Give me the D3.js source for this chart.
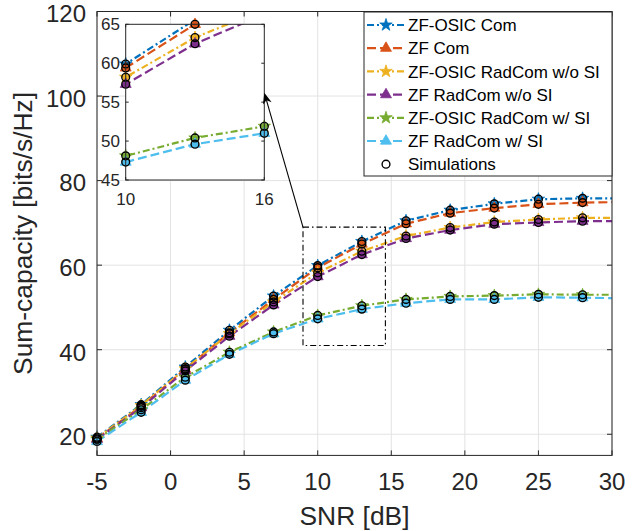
<!DOCTYPE html>
<html>
<head>
<meta charset="utf-8">
<script src="https://cdn.jsdelivr.net/npm/d3@7"></script>
<style>
  body { margin: 0; background: #fff; }
  svg { font-family: "Liberation Sans", Arial, Helvetica, sans-serif; }
</style>
</head>
<body>
<div id="chart"></div>
<script>

// ---- data ----
const snr = [-5, -2, 1, 4, 7, 10, 13, 16, 19, 22, 25, 28, 30];
// markers / simulation points are every 3 dB up to 28
const simSnr = [-5, -2, 1, 4, 7, 10, 13, 16, 19, 22, 25, 28];

const zfOsicCom      = [19.3, 27.0, 35.9, 44.6, 52.7, 59.9, 65.6, 70.5, 73.0, 74.5, 75.6, 75.8, 75.8];
const zfCom          = [19.0, 26.6, 35.4, 44.0, 51.9, 59.4, 65.0, 69.8, 72.3, 73.5, 74.4, 74.8, 74.9];
const zfOsicRadNoSI  = [19.1, 26.8, 35.5, 43.8, 51.3, 58.2, 63.3, 66.9, 68.9, 70.2, 70.8, 71.2, 71.2];
const zfRadNoSI      = [18.8, 26.3, 35.0, 43.2, 50.6, 57.3, 62.5, 66.3, 68.3, 69.7, 70.1, 70.4, 70.4];
const zfOsicRadSI    = [18.8, 25.8, 33.5, 39.4, 44.2, 48.1, 50.4, 51.9, 52.6, 52.8, 53.1, 53.0, 53.0];
const zfRadSI        = [18.3, 25.2, 32.8, 38.9, 43.8, 47.3, 49.6, 51.0, 51.9, 51.9, 52.4, 52.3, 52.2];

const seriesNames = ["ZF-OSIC Com", "ZF Com", "ZF-OSIC RadCom w/o SI",
                     "ZF RadCom w/o SI", "ZF-OSIC RadCom w/ SI", "ZF RadCom w/ SI"];
const seriesValues = [zfOsicCom, zfCom, zfOsicRadNoSI, zfRadNoSI, zfOsicRadSI, zfRadSI];
const seriesColors = ["#0072BD", "#D95319", "#EDB120", "#7E2F8E", "#77AC30", "#4DBEEE"];
const seriesMarker = ["star", "tri", "star", "tri", "star", "tri"];
const simName = "Simulations";

const xTicks = [-5, 0, 5, 10, 15, 20, 25, 30];
const yTicks = [20, 40, 60, 80, 100, 120];
const insetXTicks = [10, 16];
const insetYTicks = [45, 50, 55, 60, 65];

// zoom box (in main axes data units)
const zoomBox = {x0: 9, x1: 14.6, y0: 41, y1: 69};

// ---- layout ----
const W = 644, H = 531;
const dashPat = "9,4";
const dashDotPat = "7,3,2,3";
const axisColor = "#262626";

const svg = d3.select("#chart").append("svg")
    .attr("width", W)
    .attr("height", H);

const x = d3.scaleLinear().domain([-5, 30]).range([97, 612]);
const y = d3.scaleLinear().domain([15, 120]).range([455.4, 11.5]);

const defs = svg.append("defs");
defs.append("clipPath").attr("id", "clipMain")
  .append("rect")
    .attr("x", x(-5)).attr("y", y(120))
    .attr("width", x(30) - x(-5)).attr("height", y(15) - y(120));

// grid
const grid = svg.append("g");
grid.selectAll(".gx").data(xTicks).join("line")
    .attr("x1", d => x(d)).attr("x2", d => x(d))
    .attr("y1", y(15)).attr("y2", y(120))
    .attr("stroke", "#e3e3e3").attr("stroke-width", 1);
grid.selectAll(".gy").data(yTicks).join("line")
    .attr("x1", x(-5)).attr("x2", x(30))
    .attr("y1", d => y(d)).attr("y2", d => y(d))
    .attr("stroke", "#e3e3e3").attr("stroke-width", 1);

// marker shapes
function markerPath(kind) {
  if (kind === "star") return d3.symbol().type(d3.symbolStar).size(48)();
  return d3.symbol().type(d3.symbolTriangle).size(52)();
}

// draws all series into a container with given scales
function drawSeries(g, sx, sy, clipId, xDom, yDom) {
  const inside = (xv, yv) => xv >= xDom[0] - 1e-9 && xv <= xDom[1] + 1e-9 &&
                             yv >= yDom[0] && yv <= yDom[1];

  const line = d3.line()
      .x(d => sx(d[0]))
      .y(d => sy(d[1]));

  const lines = g.append("g").attr("clip-path", "url(#" + clipId + ")");

  seriesValues.forEach((vals, i) => {
    const pts = snr.map((s, k) => [s, vals[k]]);
    lines.append("path")
        .attr("d", line(pts))
        .attr("fill", "none")
        .attr("stroke", seriesColors[i])
        .attr("stroke-width", 2.2)
        .attr("stroke-dasharray", seriesMarker[i] === "star" ? dashDotPat : dashPat);

    const mpts = simSnr.map(s => [s, vals[snr.indexOf(s)]]).filter(d => inside(d[0], d[1]));
    g.append("g").selectAll("path").data(mpts).join("path")
        .attr("d", markerPath(seriesMarker[i]))
        .attr("transform", d => "translate(" + sx(d[0]) + "," + sy(d[1]) + ")")
        .attr("fill", seriesColors[i])
        .attr("stroke", seriesColors[i])
        .attr("stroke-width", 0.8);
  });

  // simulation circles on top
  seriesValues.forEach(vals => {
    const cpts = simSnr.map(s => [s, vals[snr.indexOf(s)]]).filter(d => inside(d[0], d[1]));
    g.append("g").selectAll("circle").data(cpts).join("circle")
        .attr("cx", d => sx(d[0]))
        .attr("cy", d => sy(d[1]))
        .attr("r", 3.9)
        .attr("fill", "none")
        .attr("stroke", "#000")
        .attr("stroke-width", 1.4);
  });
}

drawSeries(svg.append("g"), x, y, "clipMain", [-5, 30], [15, 120]);

// axes box + ticks (inward, on all four sides)
function drawBox(g, sx, sy, xt, yt, tickLen, width) {
  const [x0, x1] = sx.range();
  const [y0, y1] = sy.range(); // y0 bottom, y1 top
  g.append("rect")
      .attr("x", x0).attr("y", y1)
      .attr("width", x1 - x0).attr("height", y0 - y1)
      .attr("fill", "none").attr("stroke", axisColor).attr("stroke-width", width);
  xt.forEach(t => {
    g.append("line").attr("x1", sx(t)).attr("x2", sx(t)).attr("y1", y0).attr("y2", y0 - tickLen)
        .attr("stroke", axisColor).attr("stroke-width", width);
    g.append("line").attr("x1", sx(t)).attr("x2", sx(t)).attr("y1", y1).attr("y2", y1 + tickLen)
        .attr("stroke", axisColor).attr("stroke-width", width);
  });
  yt.forEach(t => {
    g.append("line").attr("x1", x0).attr("x2", x0 + tickLen).attr("y1", sy(t)).attr("y2", sy(t))
        .attr("stroke", axisColor).attr("stroke-width", width);
    g.append("line").attr("x1", x1).attr("x2", x1 - tickLen).attr("y1", sy(t)).attr("y2", sy(t))
        .attr("stroke", axisColor).attr("stroke-width", width);
  });
}

drawBox(svg.append("g"), x, y, xTicks, yTicks, 5, 1);

// tick labels
svg.append("g").selectAll("text").data(xTicks).join("text")
    .attr("x", d => x(d))
    .attr("y", 490)
    .attr("text-anchor", "middle")
    .attr("font-size", 24)
    .attr("fill", axisColor)
    .text(d => d);

svg.append("g").selectAll("text").data(yTicks).join("text")
    .attr("x", 86)
    .attr("y", d => y(d))
    .attr("dy", "0.45em")
    .attr("text-anchor", "end")
    .attr("font-size", 24)
    .attr("fill", axisColor)
    .text(d => d);

// axis titles
svg.append("text")
    .attr("x", (x(-5) + x(30)) / 2)
    .attr("y", 525)
    .attr("text-anchor", "middle")
    .attr("font-size", 26.4)
    .attr("fill", axisColor)
    .text("SNR [dB]");

svg.append("text")
    .attr("transform", "translate(32," + ((y(15) + y(120)) / 2) + ") rotate(-90)")
    .attr("text-anchor", "middle")
    .attr("font-size", 26.4)
    .attr("fill", axisColor)
    .text("Sum-capacity [bits/s/Hz]");

// dash-dot zoom rectangle
svg.append("rect")
    .attr("x", x(zoomBox.x0)).attr("y", y(zoomBox.y1))
    .attr("width", x(zoomBox.x1) - x(zoomBox.x0))
    .attr("height", y(zoomBox.y0) - y(zoomBox.y1))
    .attr("fill", "none")
    .attr("stroke", "#000")
    .attr("stroke-width", 1.1)
    .attr("stroke-dasharray", "6,3,1.5,3");

// ---- legend ----
const leg = svg.append("g");
leg.append("rect")
    .attr("x", 364).attr("y", 12).attr("width", 248).attr("height", 164)
    .attr("fill", "#fff").attr("stroke", axisColor).attr("stroke-width", 1);

const legRows = seriesNames.concat([simName]);
legRows.forEach((name, i) => {
  const ry = 25 + i * 23.2;
  if (i < seriesNames.length) {
    leg.append("line")
        .attr("x1", 367).attr("x2", 405).attr("y1", ry).attr("y2", ry)
        .attr("stroke", seriesColors[i]).attr("stroke-width", 2.2)
        .attr("stroke-dasharray", seriesMarker[i] === "star" ? dashDotPat : dashPat);
    leg.append("path")
        .attr("d", markerPath(seriesMarker[i]))
        .attr("transform", "translate(386," + ry + ")")
        .attr("fill", seriesColors[i]).attr("stroke", seriesColors[i]).attr("stroke-width", 0.8);
  } else {
    leg.append("circle")
        .attr("cx", 386).attr("cy", ry).attr("r", 3.9)
        .attr("fill", "none").attr("stroke", "#000").attr("stroke-width", 1.4);
  }
  leg.append("text")
      .attr("x", 408).attr("y", ry).attr("dy", "0.36em")
      .attr("font-size", 17)
      .attr("fill", "#000")
      .text(name);
});

// ---- inset (zoom of 10..16 dB) ----
const ix = d3.scaleLinear().domain([10, 16]).range([125.7, 264.3]);
const iy = d3.scaleLinear().domain([45, 65]).range([180, 24.3]);

defs.append("clipPath").attr("id", "clipInset")
  .append("rect")
    .attr("x", ix(10)).attr("y", iy(65))
    .attr("width", ix(16) - ix(10)).attr("height", iy(45) - iy(65));

const inset = svg.append("g");
inset.append("rect")
    .attr("x", ix(10)).attr("y", iy(65))
    .attr("width", ix(16) - ix(10)).attr("height", iy(45) - iy(65))
    .attr("fill", "#fff");

drawSeries(inset, ix, iy, "clipInset", [10, 16], [45, 65]);
drawBox(inset, ix, iy, insetXTicks, insetYTicks, 3, 1);

inset.selectAll(".ixl").data(insetXTicks).join("text")
    .attr("x", d => ix(d)).attr("y", 205)
    .attr("text-anchor", "middle").attr("font-size", 17).attr("fill", axisColor)
    .text(d => d);
inset.selectAll(".iyl").data(insetYTicks).join("text")
    .attr("x", 120).attr("y", d => iy(d)).attr("dy", "0.36em")
    .attr("text-anchor", "end").attr("font-size", 17).attr("fill", axisColor)
    .text(d => d);

// ---- arrow from zoom box to inset ----
const tail = [x(zoomBox.x0), y(zoomBox.y1)];
const head = [ix(16), iy(56.2)];
const ang = Math.atan2(head[1] - tail[1], head[0] - tail[0]);
const aLen = 11, aW = 4.5;
const back = [head[0] - aLen * Math.cos(ang), head[1] - aLen * Math.sin(ang)];
const notch = [head[0] - 0.7 * aLen * Math.cos(ang), head[1] - 0.7 * aLen * Math.sin(ang)];

svg.append("line")
    .attr("x1", tail[0]).attr("y1", tail[1])
    .attr("x2", notch[0]).attr("y2", notch[1])
    .attr("stroke", "#000").attr("stroke-width", 1.1);

svg.append("path")
    .attr("d", "M" + head[0] + "," + head[1] +
               "L" + (back[0] + aW * Math.sin(ang)) + "," + (back[1] - aW * Math.cos(ang)) +
               "L" + notch[0] + "," + notch[1] +
               "L" + (back[0] - aW * Math.sin(ang)) + "," + (back[1] + aW * Math.cos(ang)) + "Z")
    .attr("fill", "#000");

</script>
</body>
</html>
